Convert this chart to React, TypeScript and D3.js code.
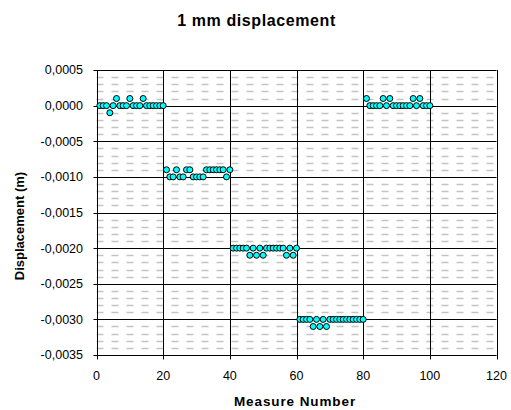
import React from 'react';
import * as d3 from 'd3';

// displacement readings (m), measures 1..100, five blocks of 20
const displacement: number[] = [
  0, 0, 0, -0.0001, 0, 0.0001, 0, 0, 0, 0.0001, 0, 0, 0, 0.0001, 0, 0, 0, 0, 0, 0,
  -0.0009, -0.001, -0.001, -0.0009, -0.001, -0.001, -0.0009, -0.0009, -0.001, -0.001,
  -0.001, -0.001, -0.0009, -0.0009, -0.0009, -0.0009, -0.0009, -0.0009, -0.001, -0.0009,
  -0.002, -0.002, -0.002, -0.002, -0.002, -0.0021, -0.002, -0.0021, -0.002, -0.0021,
  -0.002, -0.002, -0.002, -0.002, -0.002, -0.002, -0.0021, -0.002, -0.0021, -0.002,
  -0.003, -0.003, -0.003, -0.003, -0.0031, -0.003, -0.0031, -0.003, -0.0031, -0.003,
  -0.003, -0.003, -0.003, -0.003, -0.003, -0.003, -0.003, -0.003, -0.003, -0.003,
  0.0001, 0, 0, 0, 0, 0.0001, 0, 0.0001, 0, 0, 0, 0, 0, 0, 0.0001, 0, 0.0001, 0, 0, 0,
];

const xTicks = [0, 20, 40, 60, 80, 100, 120];
const yTicks = [0.0005, 0, -0.0005, -0.001, -0.0015, -0.002, -0.0025, -0.003, -0.0035];

const title = '1 mm displacement';
const xTitle = 'Measure Number';
const yTitle = 'Displacement (m)';

const W = 511;
const H = 410;
const font = 'Arial, "Liberation Sans", sans-serif';

const locale = d3.formatLocale({
  decimal: ',',
  thousands: '.',
  grouping: [3],
  currency: ['', ''],
  minus: '-',
});
const fmt = locale.format('.4f');

export default function App() {
  const x = d3.scaleLinear().domain([0, 120]).range([96.5, 496.5]);
  const y = d3.scaleLinear().domain([-0.0035, 0.0005]).range([355, 70]);

  const crisp = (v: number) => Math.round(v) + 0.5;
  const minor = d3.range(-35, 6).map((k) => k / 10000).filter((v, i) => i % 5 !== 0);

  return (
    <svg
      width={W}
      height={H}
      style={{ position: 'absolute', left: 0, top: 0, background: '#fff' }}
      fontFamily={font}
    >
      {/* minor dashed grid */}
      {minor.map((v) => (
        <line
          key={'m' + v}
          x1={x(0)}
          x2={x(120)}
          y1={crisp(y(v))}
          y2={crisp(y(v))}
          stroke="#c4c4c4"
          strokeWidth={1.4}
          strokeDasharray="7 8"
        />
      ))}
      {/* major grid */}
      {yTicks.map((v) => (
        <line key={'h' + v} x1={x(0)} x2={x(120)} y1={crisp(y(v))} y2={crisp(y(v))} stroke="#000" />
      ))}
      {xTicks.map((v) => (
        <line key={'v' + v} x1={crisp(x(v))} x2={crisp(x(v))} y1={y(0.0005)} y2={y(-0.0035)} stroke="#000" />
      ))}
      {/* axes ticks */}
      {yTicks.map((v) => (
        <g key={'yt' + v}>
          <line x1={crisp(x(0)) - 4} x2={crisp(x(0)) + 4} y1={crisp(y(v))} y2={crisp(y(v))} stroke="#000" />
          <text x={83} y={y(v)} dy="0.35em" textAnchor="end" fontSize={12.5} fill="#000">
            {fmt(v)}
          </text>
        </g>
      ))}
      {xTicks.map((v) => (
        <g key={'xt' + v}>
          <line x1={crisp(x(v))} x2={crisp(x(v))} y1={crisp(y(-0.0035)) - 4} y2={crisp(y(-0.0035)) + 4} stroke="#000" />
          <text x={x(v)} y={380} textAnchor="middle" fontSize={12.5} fill="#000">
            {v}
          </text>
        </g>
      ))}
      {/* points */}
      {displacement.map((v, i) => (
        <circle key={'p' + i} cx={x(i + 1)} cy={y(v)} r={3} fill="#00ffff" stroke="#000" strokeWidth={1} />
      ))}
      {/* titles */}
      <text x={256.5} y={26} textAnchor="middle" fontSize={16} fontWeight="bold" letterSpacing={0.6}>
        {title}
      </text>
      <text x={295} y={406} textAnchor="middle" fontSize={13.5} fontWeight="bold" letterSpacing={0.9}>
        {xTitle}
      </text>
      <text
        transform={`translate(24,${226}) rotate(-90)`}
        textAnchor="middle"
        fontSize={13}
        fontWeight="bold"
      >
        {yTitle}
      </text>
    </svg>
  );
}
